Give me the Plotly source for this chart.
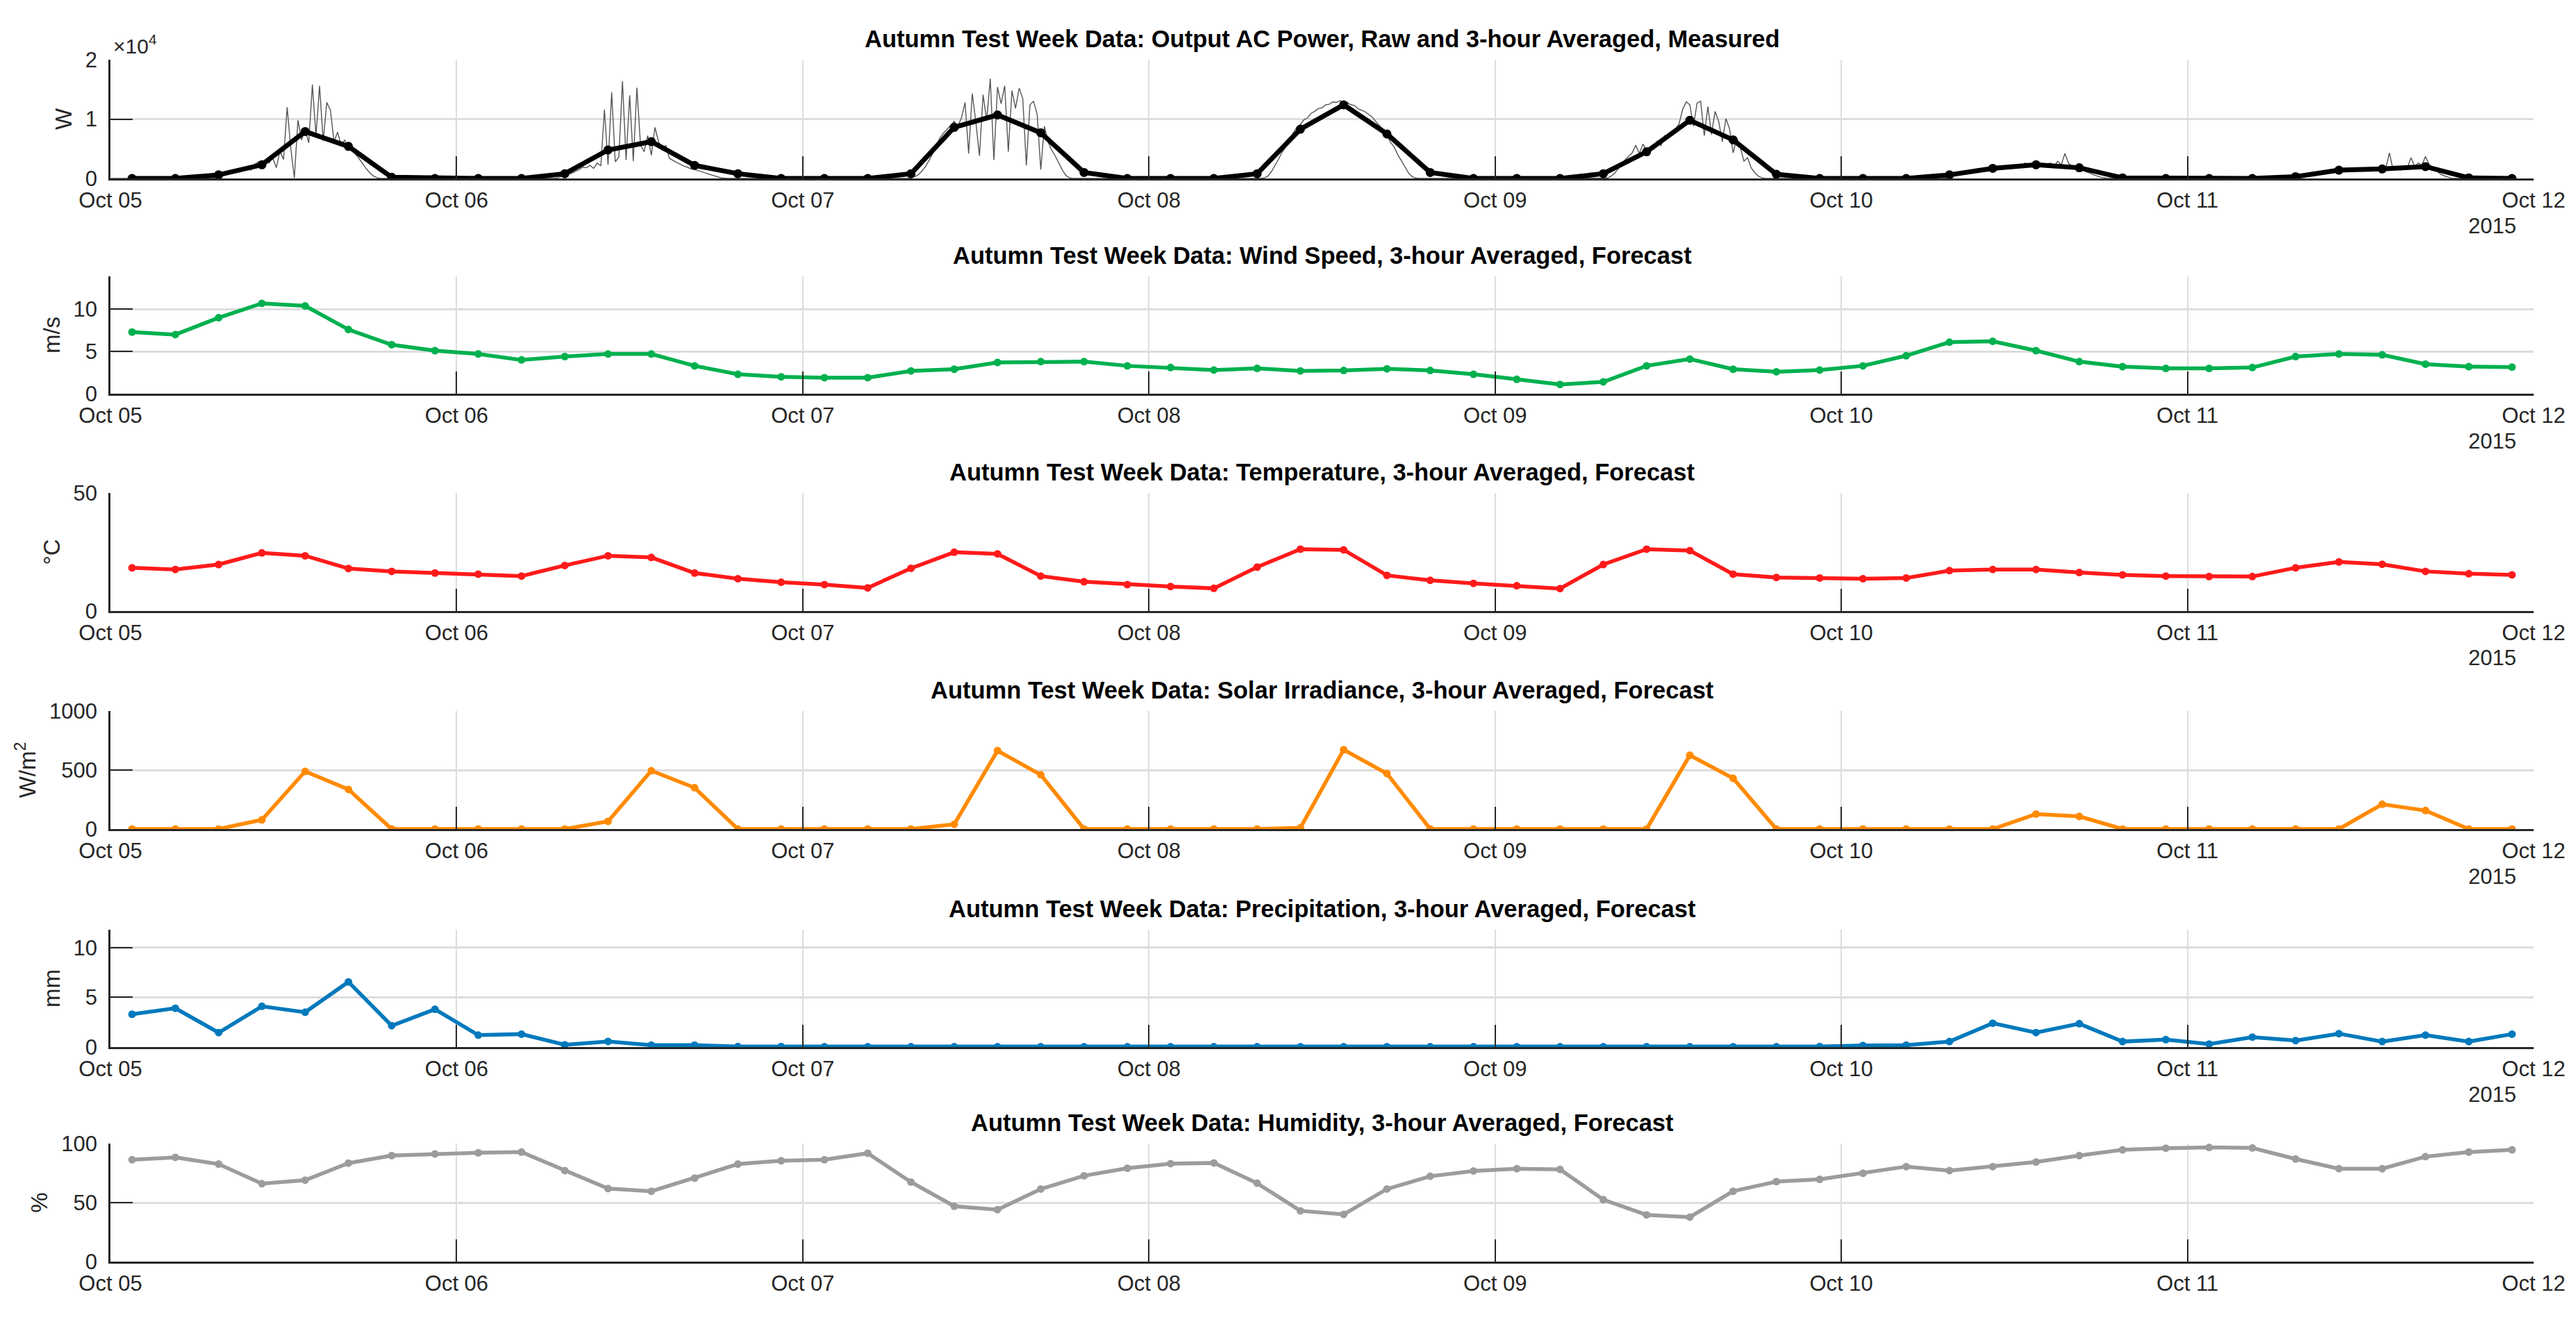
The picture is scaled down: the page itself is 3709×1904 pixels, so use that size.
import pandas as pd
import plotly.graph_objects as go

# ---------------- data ----------------
day_labels = ["2015-10-05", "2015-10-06", "2015-10-07", "2015-10-08",
              "2015-10-09", "2015-10-10", "2015-10-11"]

power_avg = [0, 0, 600, 2300, 7900, 5400, 200, 0,
             0, 0, 800, 4800, 6200, 2200, 800, 0,
             0, 0, 800, 8600, 10700, 7700, 1000, 0,
             0, 0, 800, 8300, 12400, 7500, 1000, 0,
             0, 0, 800, 4500, 9800, 6500, 700, 0,
             0, 0, 600, 1700, 2300, 1800, 100, 0,
             0, 0, 300, 1400, 1600, 2000, 100, 0]

wind = [7.3, 7.0, 9.0, 10.7, 10.4, 7.6, 5.8, 5.1,
        4.7, 4.0, 4.4, 4.7, 4.7, 3.3, 2.3, 2.0,
        1.9, 1.9, 2.7, 2.9, 3.7, 3.8, 3.8, 3.3,
        3.1, 2.8, 3.0, 2.7, 2.75, 2.95, 2.75, 2.3,
        1.7, 1.1, 1.4, 3.3, 4.1, 2.9, 2.6, 2.8,
        3.3, 4.5, 6.1, 6.2, 5.1, 3.8, 3.2, 3.0,
        3.0, 3.1, 4.4, 4.7, 4.6, 3.5, 3.2, 3.15]

temperature = [18.3, 17.6, 19.7, 24.6, 23.4, 18.0, 16.8, 16.1,
               15.6, 14.8, 19.3, 23.4, 22.7, 16.1, 13.7, 12.2,
               11.2, 9.8, 18.1, 24.9, 24.2, 14.8, 12.4, 11.2,
               10.4, 9.6, 18.6, 26.2, 25.9, 15.1, 13.0, 11.7,
               10.7, 9.5, 19.7, 26.2, 25.6, 15.6, 14.2, 14.0,
               13.7, 14.0, 17.1, 17.6, 17.6, 16.3, 15.3, 14.8,
               14.6, 14.6, 18.3, 20.8, 19.8, 16.8, 15.8, 15.3]

solar = [0, 0, 0, 78, 488, 336, 0, 0,
         0, 0, 0, 65, 494, 350, 0, 0,
         0, 0, 0, 40, 664, 460, 0, 0,
         0, 0, 0, 10, 672, 470, 0, 0,
         0, 0, 0, 0, 625, 430, 0, 0,
         0, 0, 0, 0, 127, 107, 0, 0,
         0, 0, 0, 0, 210, 157, 0, 0]

precip = [3.3, 3.9, 1.45, 4.1, 3.5, 6.55, 2.15, 3.8,
          1.2, 1.3, 0.23, 0.56, 0.2, 0.2, 0.05, 0.05,
          0.03, 0.03, 0.03, 0.03, 0.03, 0.03, 0.03, 0.03,
          0.03, 0.03, 0.03, 0.03, 0.03, 0.03, 0.03, 0.03,
          0.03, 0.03, 0.03, 0.03, 0.03, 0.03, 0.03, 0.05,
          0.15, 0.2, 0.55, 2.4, 1.45, 2.35, 0.55, 0.75,
          0.3, 1.0, 0.65, 1.35, 0.55, 1.2, 0.55, 1.3]

humidity = [86.3, 88.3, 82.6, 66.0, 69.0, 83.4, 89.8, 91.2,
            92.2, 92.8, 77.1, 61.9, 59.6, 70.7, 82.6, 85.4,
            86.3, 91.8, 67.4, 46.9, 44.0, 61.5, 72.7, 79.1,
            83.0, 83.6, 66.4, 43.0, 40.0, 61.5, 72.3, 76.8,
            78.7, 78.1, 52.5, 39.6, 37.7, 59.6, 67.8, 69.7,
            74.8, 80.5, 77.1, 80.5, 84.4, 89.8, 94.7, 96.1,
            96.7, 96.3, 86.9, 78.7, 78.7, 88.9, 92.8, 94.7]

# raw AC power, 15-minute samples from 06:30 to 18:45 each day (W)
raw_oct05 = [0, 0, 0, 50, 200, 400, 600, 800, 1000, 1300, 1100, 1600, 1900, 1400,
             2400, 2800, 2200, 3100, 2600, 3500, 1800, 4600, 3200, 12000, 5200, 100,
             9800, 6500, 8200, 6000, 15800, 7200, 15600, 6300, 12800, 11500, 6200,
             7800, 5600, 6500, 4800, 5300, 4100, 3300, 2400, 1600, 900, 400, 100, 0]
raw_oct06 = [0, 0, 100, 300, 500, 700, 900, 1200, 1500, 1900, 1800, 2200, 1700, 2600,
             2100, 11600, 2300, 14500, 2800, 3600, 16400, 3100, 14000, 2900, 15300,
             5600, 4500, 7200, 3900, 8600, 6200, 4800, 5600, 3400, 3000, 2700, 2400,
             2100, 1900, 1600, 1500, 1300, 1100, 900, 700, 500, 300, 150, 50, 0]
raw_oct07 = [0, 0, 0, 0, 100, 300, 600, 1200, 2000, 3000, 4200, 5500, 6800, 7600,
             8300, 9000, 9600, 8800, 10200, 12800, 4200, 14300, 9500, 3800, 14100,
             9800, 16800, 3100, 15400, 12600, 15600, 4500, 14800, 11800, 15200, 13500,
             2200, 12400, 13000, 10800, 1500, 8800, 6200, 4800, 3800, 2600, 1400, 500,
             100, 0]
raw_oct08 = [0, 0, 0, 0, 0, 0, 100, 400, 1200, 2200, 3300, 4500, 5400, 6700, 7600,
             8600, 9100, 9900, 10200, 11000, 11300, 11800, 11900, 12400, 12500, 12900,
             12800, 13100, 12700, 12800, 12400, 12300, 11700, 11500, 11200, 10700,
             10300, 9500, 8900, 8200, 7200, 6100, 5300, 4000, 3000, 1900, 900, 300,
             50, 0]
raw_oct09 = [0, 0, 0, 0, 0, 50, 300, 800, 1500, 2300, 3100, 3700, 4300, 5600, 4200,
             5800, 4600, 5300, 4900, 6300, 5500, 7200, 6800, 7600, 8300, 9200, 11600,
             12900, 12400, 8800, 12700, 13000, 7200, 12100, 7400, 11300, 9600, 6200,
             10100, 8400, 4300, 6800, 5200, 2900, 3500, 1800, 1000, 400, 100, 0]
raw_oct10 = [0, 0, 0, 100, 300, 500, 700, 900, 1100, 1200, 1400, 1300, 1700, 1500,
             1800, 1600, 2000, 1700, 1900, 2100, 1800, 2200, 2100, 2400, 2000, 2600,
             2200, 2500, 2300, 2700, 2200, 2400, 2600, 2100, 2900, 2300, 4200, 2600,
             2000, 1800, 1600, 1400, 1100, 900, 600, 400, 200, 100, 0, 0]
raw_oct11 = [0, 0, 0, 0, 100, 200, 400, 600, 800, 900, 1100, 1000, 1300, 1200, 1400,
             1300, 1500, 1400, 1600, 1500, 1700, 1600, 1500, 1700, 1400, 1800, 1300,
             1600, 1200, 1700, 4300, 1500, 1900, 1400, 2100, 1800, 3500, 2000, 2600,
             2200, 3700, 2400, 1900, 1300, 800, 500, 250, 80, 0, 0]
raw_days = [raw_oct05, raw_oct06, raw_oct07, raw_oct08, raw_oct09, raw_oct10, raw_oct11]

titles = [
    "Autumn Test Week Data: Output AC Power, Raw and 3-hour Averaged, Measured",
    "Autumn Test Week Data: Wind Speed, 3-hour Averaged, Forecast",
    "Autumn Test Week Data: Temperature, 3-hour Averaged, Forecast",
    "Autumn Test Week Data: Solar Irradiance, 3-hour Averaged, Forecast",
    "Autumn Test Week Data: Precipitation, 3-hour Averaged, Forecast",
    "Autumn Test Week Data: Humidity, 3-hour Averaged, Forecast",
]
ylabels = ["W", "m/s", "°C", "W/m<sup>2</sup>", "mm", "%"]
yranges = [[0, 20000], [0, 13.9], [0, 50], [0, 1000], [0, 11.8], [0, 100]]
ytickvals = [[0, 10000, 20000], [0, 5, 10], [0, 50], [0, 500, 1000], [0, 5, 10], [0, 50, 100]]
yticktext = [["0", "1", "2"], ["0", "5", "10"], ["0", "50"], ["0", "500", "1000"],
             ["0", "5", "10"], ["0", "50", "100"]]
colors = ["#000000", "#00B04F", "#FF1A1A", "#FF8A00", "#0079BC", "#9C9C9C"]

# ---------------- times ----------------
t_avg = pd.date_range("2015-10-05 01:30", periods=len(power_avg), freq="3h")
raw_t, raw_v = [], []
for d, vals in zip(day_labels, raw_days):
    raw_t.append(pd.Timestamp(d))
    raw_v.append(0)
    ts = pd.date_range(pd.Timestamp(d) + pd.Timedelta("6h30min"), periods=len(vals), freq="15min")
    raw_t.extend(ts)
    raw_v.extend(vals)
raw_t.append(pd.Timestamp("2015-10-11 22:30"))
raw_v.append(0)

# ---------------- layout geometry (pixels) ----------------
W, H = 3709, 1904
x0, x1 = 151, 3640
panels_px = [(78, 249), (390, 559), (702, 872), (1016, 1186), (1331, 1500), (1639, 1809)]

FONT = "Liberation Sans, Arial, Helvetica, sans-serif"
TXT = "#262626"
TICK_FS = 31
TITLE_FS = 34.5

fig = go.Figure()

series = [power_avg, wind, temperature, solar, precip, humidity]
for i, s in enumerate(series):
    ax = "" if i == 0 else str(i + 1)
    if i == 0:
        fig.add_trace(go.Scatter(x=raw_t, y=raw_v, mode="lines",
                                 line=dict(color="#555555", width=1.4),
                                 xaxis="x", yaxis="y", showlegend=False))
        fig.add_trace(go.Scatter(x=t_avg, y=s, mode="lines+markers",
                                 line=dict(color=colors[i], width=7),
                                 marker=dict(size=13, color=colors[i]),
                                 xaxis="x", yaxis="y", showlegend=False))
    else:
        fig.add_trace(go.Scatter(x=t_avg, y=s, mode="lines+markers",
                                 line=dict(color=colors[i], width=5.5),
                                 marker=dict(size=11, color=colors[i]),
                                 xaxis="x" + ax, yaxis="y" + ax, showlegend=False))

layout = dict(width=W, height=H, autosize=False,
              margin=dict(l=0, r=0, t=0, b=0, pad=0, autoexpand=False),
              paper_bgcolor="white", plot_bgcolor="white",
              font=dict(family=FONT, size=TICK_FS, color=TXT))

annotations = []
xdom = [x0 / W, x1 / W]
for i, (top, bot) in enumerate(panels_px):
    ax = "" if i == 0 else str(i + 1)
    ydom = [1 - bot / H, 1 - top / H]
    layout["xaxis" + ax] = dict(
        domain=xdom, anchor="y" + ax, type="date", automargin=False,
        range=["2015-10-05 00:00", "2015-10-12 00:00"],
        tick0="2015-10-05", dtick=86400000, tickformat="%b %d",
        ticks="inside", ticklen=32, tickwidth=2, tickcolor=TXT,
        showline=True, linecolor=TXT, linewidth=2.5,
        showgrid=True, gridcolor="#DDDDDD", gridwidth=1.5,
        zeroline=False, ticklabelstandoff=2,
        tickfont=dict(size=TICK_FS, color=TXT, family=FONT))
    layout["yaxis" + ax] = dict(
        domain=ydom, anchor="x" + ax, range=yranges[i], automargin=False,
        tickmode="array", tickvals=ytickvals[i], ticktext=yticktext[i],
        ticks="inside", ticklen=32, tickwidth=2, tickcolor=TXT,
        showline=True, linecolor=TXT, linewidth=2.5,
        showgrid=True, gridcolor="#DDDDDD", gridwidth=2.5,
        zeroline=False, ticklabelstandoff=10,
        tickfont=dict(size=TICK_FS, color=TXT, family=FONT),
        title=dict(text=ylabels[i], font=dict(size=33, color=TXT, family=FONT), standoff=10))
    annotations.append(dict(
        text="<b>" + titles[i] + "</b>", xref="paper", yref="paper",
        x=(x0 + x1) / 2 / W, y=ydom[1], xanchor="center", yanchor="bottom",
        yshift=9, showarrow=False, font=dict(size=TITLE_FS, color="#000000", family=FONT)))
    if i < 5:
        annotations.append(dict(
            text="2015", xref="paper", yref="paper", x=3580 / W, y=ydom[0],
            xanchor="center", yanchor="middle", yshift=-68, showarrow=False,
            font=dict(size=TICK_FS, color=TXT, family=FONT)))

annotations.append(dict(
    text="×10<sup>4</sup>", xref="paper", yref="paper", x=153 / W, y=1 - 78 / H,
    xanchor="left", yanchor="bottom", yshift=1, showarrow=False,
    font=dict(size=30, color=TXT, family=FONT)))
layout["annotations"] = annotations

fig.update_layout(**layout)
fig.write_html("out.html")
